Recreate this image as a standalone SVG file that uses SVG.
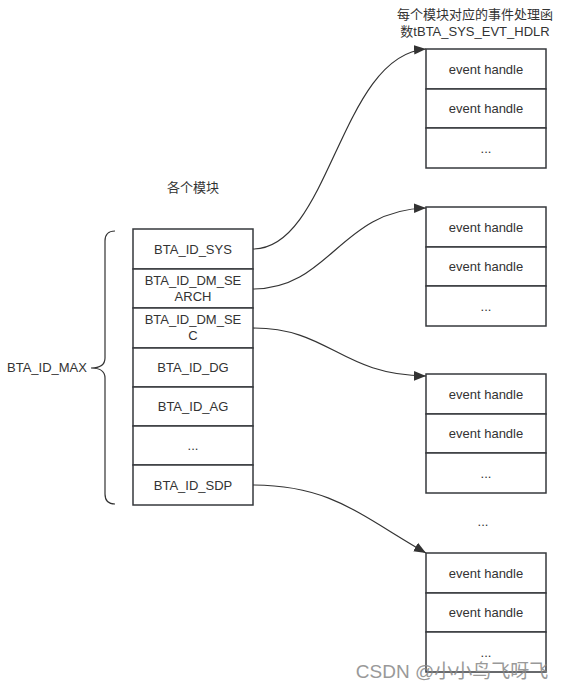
<svg xmlns="http://www.w3.org/2000/svg" width="563" height="690" viewBox="0 0 563 690">
<defs>
<style>
.box{fill:#fff;stroke:#36393d;stroke-width:1.5}
.t{font-family:"Liberation Sans","Noto Sans CJK SC",sans-serif;font-size:13px;fill:#333;text-anchor:middle}
.c{fill:none;stroke:#333;stroke-width:1.2}
</style>
<marker id="ar" viewBox="0 0 10 10" refX="10" refY="5" markerWidth="12" markerHeight="12" markerUnits="userSpaceOnUse" orient="auto">
<path d="M0,1 L10,5 L0,9 Z" fill="#333"/>
</marker>
</defs>
<rect width="563" height="690" fill="#fff"/>
<text class="t" x="475" y="19">每个模块对应的事件处理函</text>
<text class="t" x="475" y="36">数tBTA_SYS_EVT_HDLR</text>
<text class="t" x="193" y="192">各个模块</text>
<g id="brace">
<path class="c" d="M115 231 Q105 231 105 241 L105 358 Q105 368 91 368 Q105 368 105 378 L105 494 Q105 504 115 504"/>
<text class="t" x="47" y="372">BTA_ID_MAX</text>
</g>
<g id="modules">
<rect class="box" x="133" y="229" width="120" height="40"/><text class="t" x="193" y="253.5">BTA_ID_SYS</text>
<rect class="box" x="133" y="269" width="120" height="39"/><text class="t" x="193" y="285">BTA_ID_DM_SE</text><text class="t" x="193" y="301">ARCH</text>
<rect class="box" x="133" y="308" width="120" height="40"/><text class="t" x="193" y="324">BTA_ID_DM_SE</text><text class="t" x="193" y="340">C</text>
<rect class="box" x="133" y="348" width="120" height="39"/><text class="t" x="193" y="372">BTA_ID_DG</text>
<rect class="box" x="133" y="387" width="120" height="39"/><text class="t" x="193" y="411">BTA_ID_AG</text>
<rect class="box" x="133" y="426" width="120" height="39"/><text class="t" x="193" y="450">...</text>
<rect class="box" x="133" y="465" width="120" height="40"/><text class="t" x="193" y="489.5">BTA_ID_SDP</text>
</g>
<g id="h1">
<rect class="box" x="426" y="49" width="120" height="40"/><text class="t" x="486" y="73.5">event handle</text>
<rect class="box" x="426" y="89" width="120" height="39"/><text class="t" x="486" y="113">event handle</text>
<rect class="box" x="426" y="128" width="120" height="40"/><text class="t" x="486" y="152.5">...</text>
</g>
<g id="h2">
<rect class="box" x="426" y="207" width="120" height="40"/><text class="t" x="486" y="231.5">event handle</text>
<rect class="box" x="426" y="247" width="120" height="39"/><text class="t" x="486" y="271">event handle</text>
<rect class="box" x="426" y="286" width="120" height="40"/><text class="t" x="486" y="310.5">...</text>
</g>
<g id="h3">
<rect class="box" x="426" y="374" width="120" height="40"/><text class="t" x="486" y="398.5">event handle</text>
<rect class="box" x="426" y="414" width="120" height="39"/><text class="t" x="486" y="438">event handle</text>
<rect class="box" x="426" y="453" width="120" height="40"/><text class="t" x="486" y="477.5">...</text>
</g>
<text class="t" x="483" y="526">...</text>
<g id="h4">
<rect class="box" x="426" y="553" width="120" height="40"/><text class="t" x="486" y="577.5">event handle</text>
<rect class="box" x="426" y="593" width="120" height="39"/><text class="t" x="486" y="617">event handle</text>
<rect class="box" x="426" y="632" width="120" height="40"/><text class="t" x="486" y="656.5">...</text>
</g>
<g id="connectors">
<path class="c" marker-end="url(#ar)" d="M253 249 C 330 249 340 55 426 49"/>
<path class="c" marker-end="url(#ar)" d="M253 289 C 330 289 340 210 426 208"/>
<path class="c" marker-end="url(#ar)" d="M253 328 C 330 328 340 375 426 376"/>
<path class="c" marker-end="url(#ar)" d="M253 485 C 330 485 360 515 426 553"/>
</g>
<text x="452" y="678" style="font-family:'Liberation Sans','Noto Sans CJK SC',sans-serif;font-size:19px;fill:#888;text-anchor:middle;opacity:0.85">CSDN @小小鸟飞呀飞</text>
</svg>
